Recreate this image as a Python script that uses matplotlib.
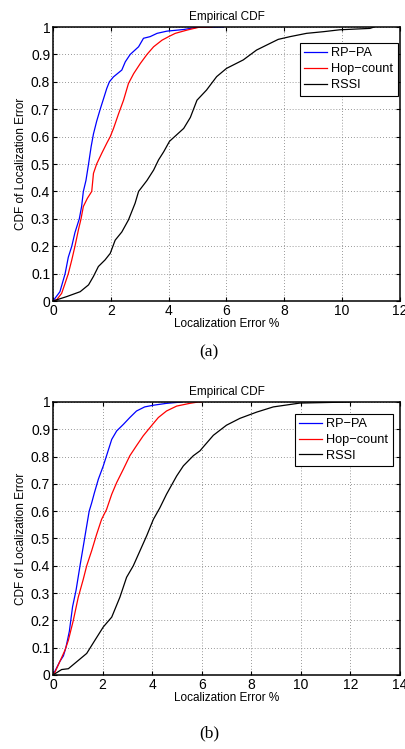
import numpy as np
import matplotlib
matplotlib.use('Agg')
import matplotlib.pyplot as plt

plt.rcParams['font.family'] = ['Liberation Sans', 'DejaVu Sans']

labels = ['RP\u2212PA', 'Hop\u2212count', 'RSSI']
colors = ['blue', 'red', 'black']

# panel (a)
blue_a_x = [0, 0.24, 0.42, 0.53, 0.65, 0.76, 0.91, 0.99, 1.05, 1.14, 1.23, 1.32, 1.40, 1.51,
            1.63, 1.75, 1.86, 1.95, 2.09, 2.38, 2.50, 2.67, 2.96, 3.13, 3.36, 3.60, 3.94, 4.52,
            4.98, 5.9]
blue_a_y = [0, 0.034, 0.1, 0.16, 0.2, 0.25, 0.3, 0.345, 0.4, 0.44, 0.5, 0.564, 0.61, 0.656,
            0.699, 0.739, 0.776, 0.80, 0.818, 0.843, 0.873, 0.90, 0.928, 0.959, 0.965, 0.977, 0.985, 0.991,
            0.999, 1.0]
red_a_x = [0, 0.13, 0.30, 0.42, 0.53, 0.65, 0.76, 0.88, 0.97, 1.05, 1.19, 1.34, 1.40, 1.51,
           1.69, 1.86, 1.98, 2.09, 2.27, 2.44, 2.61, 2.79, 3.02, 3.25, 3.48, 3.77, 4.0, 4.23,
           4.64, 5.04, 5.5]
red_a_y = [0, 0.005, 0.028, 0.065, 0.1, 0.15, 0.2, 0.26, 0.3, 0.345, 0.375, 0.4, 0.466, 0.5,
           0.54, 0.576, 0.6, 0.629, 0.684, 0.733, 0.794, 0.83, 0.867, 0.90, 0.928, 0.952, 0.965, 0.977,
           0.989, 0.999, 1.0]
black_a_x = [0, 0.47, 0.94, 1.23, 1.40, 1.57, 1.80, 1.98, 2.15, 2.38, 2.61, 2.84, 2.96, 3.25,
             3.48, 3.65, 3.83, 4.03, 4.52, 4.75, 4.98, 5.31, 5.66, 6.0, 6.58, 7.04, 7.5, 7.79,
             8.2, 8.77, 9.35, 9.92, 10.96, 11.1]
black_a_y = [0, 0.016, 0.034, 0.059, 0.09, 0.126, 0.15, 0.174, 0.222, 0.252, 0.296, 0.357, 0.4, 0.44,
             0.478, 0.515, 0.545, 0.583, 0.63, 0.67, 0.733, 0.77, 0.819, 0.849, 0.88, 0.916, 0.94, 0.955,
             0.965, 0.977, 0.983, 0.99, 0.995, 1.0]

# panel (b)
blue_b_x = [0, 0.28, 0.42, 0.52, 0.66, 0.79, 0.93, 1.09, 1.22, 1.33, 1.46, 1.56, 1.67, 1.83,
            2.03, 2.16, 2.37, 2.57, 2.84, 3.10, 3.37, 3.70, 4.04, 4.58, 5.19]
blue_b_y = [0, 0.05, 0.07, 0.1, 0.16, 0.25, 0.31, 0.4, 0.47, 0.53, 0.6, 0.63, 0.667, 0.717,
            0.766, 0.803, 0.863, 0.894, 0.918, 0.943, 0.967, 0.982, 0.988, 0.995, 1.0]
red_b_x = [0, 0.08, 0.28, 0.48, 0.62, 0.82, 1.02, 1.22, 1.36, 1.56, 1.76, 1.96, 2.16, 2.37,
           2.57, 2.84, 3.10, 3.37, 3.64, 3.91, 4.25, 4.58, 4.99, 5.52, 5.86, 6.0]
red_b_y = [0, 0.01, 0.05, 0.09, 0.127, 0.2, 0.285, 0.35, 0.4, 0.455, 0.515, 0.57, 0.606, 0.662,
           0.705, 0.754, 0.803, 0.84, 0.876, 0.906, 0.943, 0.967, 0.985, 0.995, 1.0, 1.0]
black_b_x = [0, 0.35, 0.62, 0.95, 1.36, 1.69, 2.03, 2.37, 2.70, 2.97, 3.24, 3.51, 3.78, 4.05,
             4.31, 4.58, 4.99, 5.26, 5.66, 5.93, 6.06, 6.47, 7.0, 7.54, 8.22, 8.89, 9.96, 12.0]
black_b_y = [0, 0.02, 0.023, 0.048, 0.079, 0.127, 0.176, 0.212, 0.285, 0.358, 0.4, 0.455, 0.51, 0.57,
             0.612, 0.662, 0.729, 0.766, 0.803, 0.821, 0.835, 0.878, 0.915, 0.94, 0.963, 0.982, 0.996, 1.0]

yticks = [0, 0.1, 0.2, 0.3, 0.4, 0.5, 0.6, 0.7, 0.8, 0.9, 1]
ytick_labels = ['0', '0.1', '0.2', '0.3', '0.4', '0.5', '0.6', '0.7', '0.8', '0.9', '1']


def draw_panel(ax, series, xmax, legend_anchor):
    for (x, y), c, lab in zip(series, colors, labels):
        ax.plot(x, y, color=c, linewidth=0.9, label=lab)
    ax.set_xlim(0, xmax)
    ax.set_ylim(0, 1)
    ax.set_xticks(np.arange(0, xmax + 1, 2))
    ax.set_yticks(yticks)
    ax.set_yticklabels(ytick_labels)
    ax.grid(True, color='#777777', linestyle=(0, (1, 2.5)), linewidth=0.6)
    ax.tick_params(direction='in', length=3, width=0.8, labelsize=10, pad=2,
                   top=True, right=True)
    for s in ax.spines.values():
        s.set_linewidth(1.1)
    ax.set_title('Empirical CDF', fontsize=8.5, pad=5)
    ax.set_xlabel('Localization Error %', fontsize=8.5, labelpad=0)
    ax.set_ylabel('CDF of Localization Error', fontsize=8.5, labelpad=3)
    leg = ax.legend(loc='upper right', bbox_to_anchor=legend_anchor, fontsize=9.2,
                    fancybox=False, framealpha=1, edgecolor='black', borderpad=0.35,
                    handlelength=1.8, handletextpad=0.3, labelspacing=0.3, borderaxespad=0)
    leg.get_frame().set_linewidth(0.8)


fig = plt.figure(figsize=(4.06, 7.49), dpi=100)
ax_a = fig.add_axes([0.1305, 0.5981, 0.8547, 0.3658])
ax_b = fig.add_axes([0.1305, 0.0988, 0.8547, 0.3645])

draw_panel(ax_a, [(blue_a_x, blue_a_y), (red_a_x, red_a_y), (black_a_x, black_a_y)], 12, (0.993, 0.942))
draw_panel(ax_b, [(blue_b_x, blue_b_y), (red_b_x, red_b_y), (black_b_x, black_b_y)], 14, (0.979, 0.957))

fig.text(0.515, 0.530, '(a)', family='Liberation Serif', fontsize=12.5, ha='center', va='center')
fig.text(0.515, 0.0214, '(b)', family='Liberation Serif', fontsize=12.5, ha='center', va='center')

fig.savefig('out.png', dpi=100)
